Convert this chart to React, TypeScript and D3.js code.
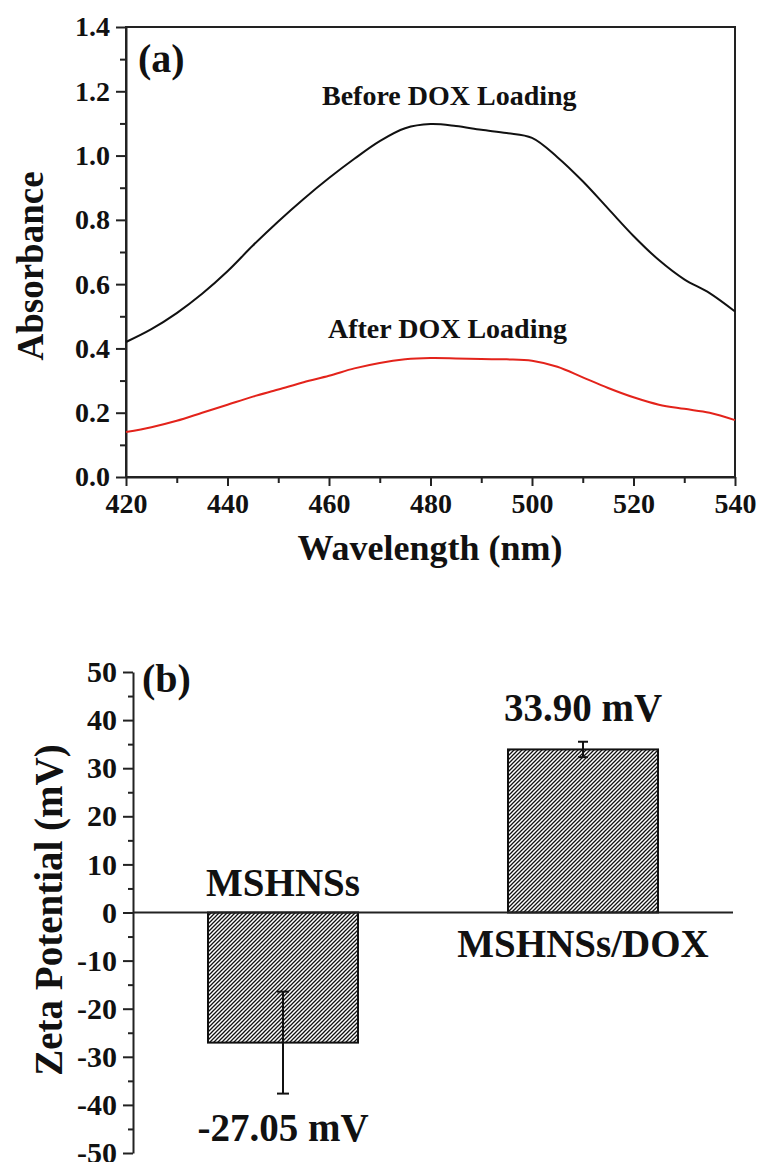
import React, { useEffect, useRef } from 'react';
import * as d3 from 'd3';

// panel (a) UV-vis spectra
const wavelengths = [420, 425, 430, 435, 440, 445, 450, 455, 460, 465, 470, 475, 480, 485, 490, 495, 500, 505, 510, 515, 520, 525, 530, 535, 540];
const beforeDox = [0.42, 0.46, 0.51, 0.57, 0.64, 0.72, 0.795, 0.865, 0.93, 0.99, 1.045, 1.085, 1.098, 1.092, 1.08, 1.07, 1.055, 0.995, 0.92, 0.835, 0.75, 0.675, 0.615, 0.572, 0.515];
const afterDox = [0.14, 0.155, 0.175, 0.20, 0.225, 0.25, 0.272, 0.295, 0.315, 0.338, 0.355, 0.366, 0.37, 0.369, 0.367, 0.366, 0.362, 0.343, 0.31, 0.277, 0.248, 0.225, 0.212, 0.200, 0.177];

// panel (b) zeta potential
const samples = ['MSHNSs', 'MSHNSs/DOX'];
const zeta = [-27.05, 33.90];
const zetaErr = [10.6, 1.6];
const zetaLabels = ['-27.05 mV', '33.90 mV'];

const FONT = '"Liberation Serif", "Times New Roman", serif';

export default function App() {
  const ref = useRef(null);

  useEffect(() => {
    const svg = d3.select(ref.current);
    svg.selectAll('*').remove();

    // ---------- (a) ----------
    const xA = d3.scaleLinear().domain([420, 540]).range([126, 735]);
    const yA = d3.scaleLinear().domain([0, 1.4]).range([477, 27]);
    const gA = svg.append('g');

    // minor ticks
    gA.append('g')
      .attr('transform', 'translate(126,0)')
      .call(d3.axisLeft(yA).tickValues(d3.range(0.1, 1.4, 0.2)).tickSize(6).tickFormat(() => ''))
      .call(g => g.select('.domain').remove());
    gA.append('g')
      .attr('transform', 'translate(0,477)')
      .call(d3.axisBottom(xA).tickValues(d3.range(430, 540, 20)).tickSize(6).tickFormat(() => ''))
      .call(g => g.select('.domain').remove());

    const yAxA = gA.append('g')
      .attr('transform', 'translate(126,0)')
      .call(d3.axisLeft(yA).tickValues(d3.range(0, 1.41, 0.2)).tickSize(10).tickPadding(6).tickSizeOuter(0).tickFormat(d3.format('.1f')));
    yAxA.selectAll('text').attr('font-size', 28);

    const xAxA = gA.append('g')
      .attr('transform', 'translate(0,477)')
      .call(d3.axisBottom(xA).tickValues(d3.range(420, 541, 20)).tickSize(9).tickSizeOuter(0));
    xAxA.selectAll('text').attr('font-size', 28).attr('y', 36).attr('dy', null);

    gA.selectAll('.tick line').attr('stroke', '#222').attr('stroke-width', 2);
    gA.selectAll('.domain').attr('stroke', '#222').attr('stroke-width', 2);

    // frame
    gA.append('rect')
      .attr('x', 126).attr('y', 27)
      .attr('width', 735 - 126).attr('height', 477 - 27)
      .attr('fill', 'none').attr('stroke', '#222').attr('stroke-width', 2);

    const line = d3.line<number>()
      .x((d, i) => xA(wavelengths[i]))
      .y(d => yA(d))
      .curve(d3.curveCatmullRom.alpha(0.5));

    gA.append('path').attr('d', line(beforeDox)).attr('fill', 'none').attr('stroke', '#111').attr('stroke-width', 2);
    gA.append('path').attr('d', line(afterDox)).attr('fill', 'none').attr('stroke', '#e3231b').attr('stroke-width', 2);

    gA.append('text').attr('x', 322).attr('y', 105).attr('font-size', 28).attr('font-weight', 'bold').text('Before DOX Loading');
    gA.append('text').attr('x', 328).attr('y', 338).attr('font-size', 28).attr('font-weight', 'bold').text('After DOX Loading');
    gA.append('text').attr('x', 138).attr('y', 72).attr('font-size', 40).attr('font-weight', 'bold').text('(a)');

    gA.append('text')
      .attr('x', 430).attr('y', 560)
      .attr('text-anchor', 'middle').attr('font-size', 36).attr('font-weight', 'bold')
      .text('Wavelength (nm)');
    gA.append('text')
      .attr('transform', 'translate(43,266) rotate(-90)')
      .attr('text-anchor', 'middle').attr('font-size', 37).attr('font-weight', 'bold')
      .text('Absorbance');

    // ---------- (b) ----------
    const xB = d3.scaleBand().domain(samples).range([133, 733]).paddingInner(0.5).paddingOuter(0.25);
    const yB = d3.scaleLinear().domain([-50, 50]).range([1153, 672]);
    const gB = svg.append('g');

    const defs = svg.append('defs');
    const pat = defs.append('pattern')
      .attr('id', 'hatch').attr('patternUnits', 'userSpaceOnUse')
      .attr('width', 4).attr('height', 4);
    pat.append('path')
      .attr('d', 'M-1,1 l2,-2 M0,4 l4,-4 M3,5 l2,-2')
      .attr('stroke', '#111').attr('stroke-width', 1.3);

    gB.append('g')
      .attr('transform', 'translate(133,0)')
      .call(d3.axisLeft(yB).tickValues(d3.range(-45, 50, 10)).tickSize(5).tickFormat(() => ''))
      .call(g => g.select('.domain').remove());
    const yAxB = gB.append('g')
      .attr('transform', 'translate(133,0)')
      .call(d3.axisLeft(yB).tickValues(d3.range(-50, 51, 10)).tickSize(10).tickPadding(6).tickSizeOuter(0).tickFormat(d => String(d)));
    yAxB.selectAll('text').attr('font-size', 30);
    gB.selectAll('.tick line').attr('stroke', '#222').attr('stroke-width', 2);
    gB.selectAll('.domain').attr('stroke', '#222').attr('stroke-width', 2);

    const y0 = yB(0);
    gB.selectAll('rect.bar')
      .data(zeta)
      .enter().append('rect')
      .attr('class', 'bar')
      .attr('x', (d, i) => xB(samples[i]))
      .attr('width', xB.bandwidth())
      .attr('y', d => Math.min(yB(d), y0))
      .attr('height', d => Math.abs(yB(d) - y0))
      .attr('fill', 'url(#hatch)')
      .attr('stroke', '#111').attr('stroke-width', 2);

    gB.append('line')
      .attr('x1', 133).attr('x2', 733).attr('y1', y0).attr('y2', y0)
      .attr('stroke', '#222').attr('stroke-width', 2);

    // error bars
    zeta.forEach((v, i) => {
      const cx = xB(samples[i]) + xB.bandwidth() / 2;
      const lo = yB(v - zetaErr[i]);
      const hi = yB(v + zetaErr[i]);
      const cap = i === 0 ? 6 : 5;
      const eg = gB.append('g').attr('stroke', '#111').attr('stroke-width', 2);
      eg.append('line').attr('x1', cx).attr('x2', cx).attr('y1', lo).attr('y2', hi);
      eg.append('line').attr('x1', cx - cap).attr('x2', cx + cap).attr('y1', lo).attr('y2', lo);
      eg.append('line').attr('x1', cx - cap).attr('x2', cx + cap).attr('y1', hi).attr('y2', hi);

      const neg = v < 0;
      gB.append('text')
        .attr('x', cx)
        .attr('y', neg ? yB(v - zetaErr[i]) + 47 : yB(v + zetaErr[i]) - 21)
        .attr('text-anchor', 'middle').attr('font-size', 39).attr('font-weight', 'bold')
        .text(zetaLabels[i]);
      gB.append('text')
        .attr('x', cx)
        .attr('y', neg ? y0 - 17 : y0 + 44)
        .attr('text-anchor', 'middle').attr('font-size', 39).attr('font-weight', 'bold')
        .text(samples[i]);
    });

    gB.append('text').attr('x', 142).attr('y', 692).attr('font-size', 40).attr('font-weight', 'bold').text('(b)');
    gB.append('text')
      .attr('transform', 'translate(62,910) rotate(-90)')
      .attr('text-anchor', 'middle').attr('font-size', 39).attr('font-weight', 'bold')
      .text('Zeta Potential (mV)');

    svg.selectAll('text').attr('font-family', FONT).attr('fill', '#111');
    svg.selectAll('.tick text').attr('font-weight', 'bold');
  }, []);

  return (
    <svg
      ref={ref}
      width={760}
      height={1162}
      style={{ position: 'absolute', left: 0, top: 0, background: '#fff' }}
    />
  );
}
